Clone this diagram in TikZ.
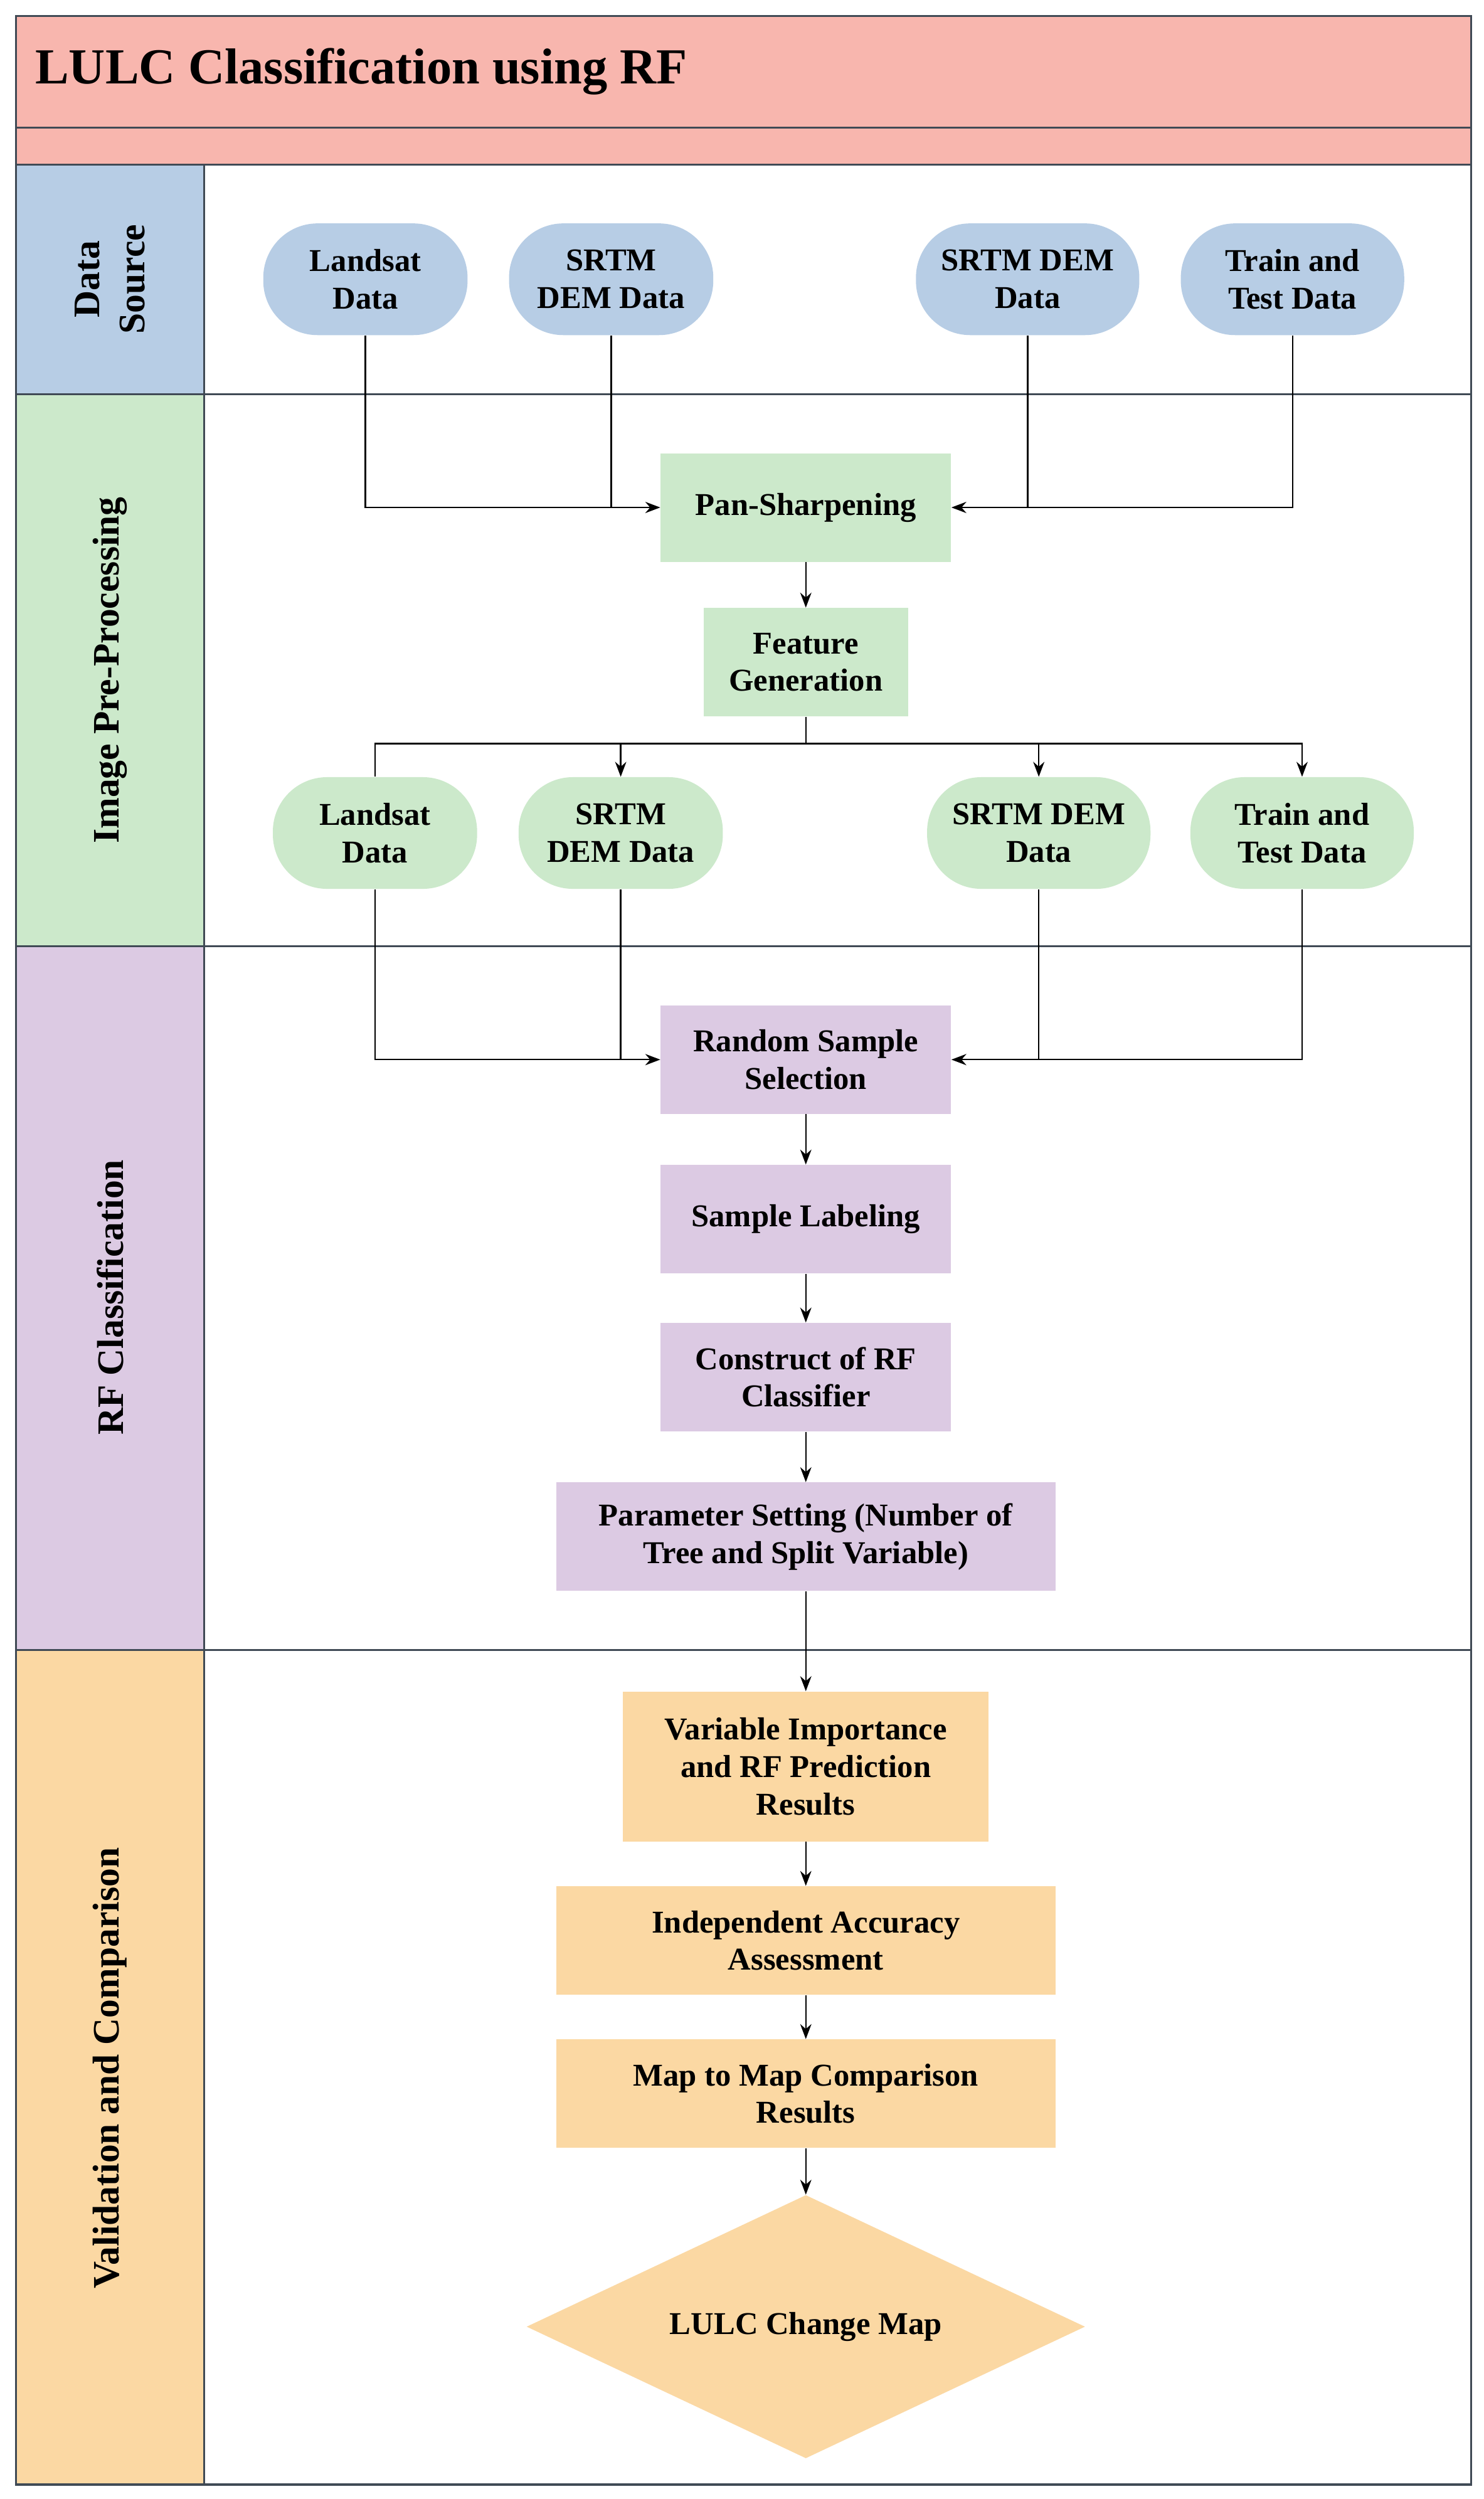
\documentclass[tikz,border=0pt]{standalone}
\usepackage{fontspec}
\setmainfont{Liberation Serif}
\usetikzlibrary{shapes.geometric,arrows.meta}
\definecolor{salmon}{HTML}{F8B6AE}
\definecolor{blu}{HTML}{B7CDE5}
\definecolor{grn}{HTML}{CCE9CB}
\definecolor{pur}{HTML}{DCCAE3}
\definecolor{org}{HTML}{FBD8A3}
\definecolor{frame}{HTML}{404A55}
\begin{document}
\begin{tikzpicture}[x=0.03cm,y=-0.03cm,
  txt/.style={font=\fontsize{17}{20}\selectfont\bfseries,align=center,inner sep=0pt},
  pill/.style={txt,rounded corners=34*0.03cm,minimum height=70*0.03cm},
  box/.style={txt,minimum height=68*0.03cm},
  lane/.style={font=\fontsize{20}{24}\selectfont\bfseries,align=center,rotate=90},
  arr/.style={-{Stealth[length=8pt,width=6pt]},line width=0.8pt},
  ln/.style={line width=0.8pt}]
\useasboundingbox (0,0) rectangle (930,1566);
\fill[white] (0,0) rectangle (930,1566);
% title
\fill[salmon] (10,10) rectangle (922,103);
\draw[frame,line width=1pt] (10,80) -- (922,80);
\node[anchor=west,font=\fontsize{27}{30}\selectfont\bfseries] (title) at (18,45) {LULC Classification using RF};
% lanes
\fill[blu] (10,103) rectangle (128,247);
\fill[grn] (10,247) rectangle (128,593);
\fill[pur] (10,593) rectangle (128,1034);
\fill[org] (10,1034) rectangle (128,1557);
\draw[frame,line width=1pt] (10,103) -- (922,103) (10,247) -- (922,247) (10,593) -- (922,593) (10,1034) -- (922,1034) (128,103) -- (128,1557);
\draw[frame,line width=1.2pt] (10,10) rectangle (922,1557);
\node[lane] (l1) at (69,175) {Data\\Source};
\node[lane] (l2) at (69,420) {Image Pre-Processing};
\node[lane] (l3) at (69,813) {RF Classification};
\node[lane] (l4) at (69,1296) {Validation and Comparison};
% data source
\node[pill,fill=blu,minimum width=128*0.03cm] (d1) at (229,175) {Landsat\\Data};
\node[pill,fill=blu,minimum width=128*0.03cm] (d2) at (383,175) {SRTM\\DEM Data};
\node[pill,fill=blu,minimum width=140*0.03cm] (d3) at (644,175) {SRTM DEM\\Data};
\node[pill,fill=blu,minimum width=140*0.03cm] (d4) at (810,175) {Train and\\Test Data};
\node[box,fill=grn,minimum width=182*0.03cm] (pan) at (505,318) {Pan-Sharpening};
\node[box,fill=grn,minimum width=128*0.03cm] (feat) at (505,415) {Feature\\Generation};
\node[pill,fill=grn,minimum width=128*0.03cm] (g1) at (235,522) {Landsat\\Data};
\node[pill,fill=grn,minimum width=128*0.03cm] (g2) at (389,522) {SRTM\\DEM Data};
\node[pill,fill=grn,minimum width=140*0.03cm] (g3) at (651,522) {SRTM DEM\\Data};
\node[pill,fill=grn,minimum width=140*0.03cm] (g4) at (816,522) {Train and\\Test Data};
\node[box,fill=pur,minimum width=182*0.03cm] (rss) at (505,664) {Random Sample\\Selection};
\node[box,fill=pur,minimum width=182*0.03cm] (sl) at (505,764) {Sample Labeling};
\node[box,fill=pur,minimum width=182*0.03cm] (crf) at (505,863) {Construct of RF\\Classifier};
\node[box,fill=pur,minimum width=313*0.03cm] (ps) at (505,963) {Parameter Setting (Number of\\Tree and Split Variable)};
\node[box,fill=org,minimum width=229*0.03cm,minimum height=94*0.03cm] (vi) at (505,1107) {Variable Importance\\and RF Prediction\\Results};
\node[box,fill=org,minimum width=313*0.03cm] (ia) at (505,1216) {Independent Accuracy\\Assessment};
\node[box,fill=org,minimum width=313*0.03cm] (mm) at (505,1312) {Map to Map Comparison\\Results};
\node[diamond,fill=org,txt,minimum width=350*0.03cm,minimum height=165*0.03cm,aspect=2.12] (lc) at (505,1458) {LULC Change Map};
% connectors
\draw[arr] (d1.south) |- (pan.west);
\draw[ln] (d2.south) -- (d2.south |- pan.west);
\draw[arr] (d4.south) |- (pan.east);
\draw[ln] (d3.south) -- (d3.south |- pan.east);
\draw[arr] (pan) -- (feat);
\coordinate (fj) at (505,466);
\draw[ln] (feat.south) -- (fj);
\draw[ln] (fj) -| (g1.north);
\draw[arr] (fj) -| (g2.north);
\draw[arr] (fj) -| (g3.north);
\draw[arr] (fj) -| (g4.north);
\draw[arr] (g1.south) |- (rss.west);
\draw[ln] (g2.south) -- (g2.south |- rss.west);
\draw[arr] (g4.south) |- (rss.east);
\draw[ln] (g3.south) -- (g3.south |- rss.east);
\draw[arr] (rss) -- (sl);
\draw[arr] (sl) -- (crf);
\draw[arr] (crf) -- (ps);
\draw[arr] (ps) -- (vi);
\draw[arr] (vi) -- (ia);
\draw[arr] (ia) -- (mm);
\draw[arr] (mm) -- (lc.north);
\end{tikzpicture}
\end{document}
